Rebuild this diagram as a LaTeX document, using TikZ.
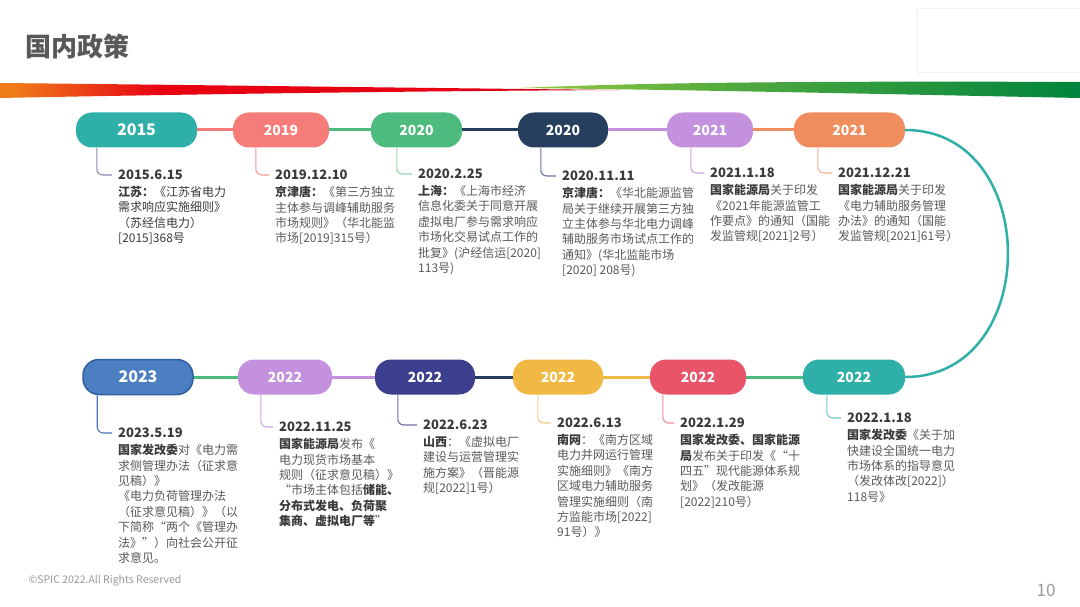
\documentclass[tikz,border=0pt]{standalone}
\usepackage{fontspec}
\setmainfont{Noto Sans CJK SC}
\newfontfamily\fwfont{Noto Sans CJK SC}[CharacterWidth=Full]
\usetikzlibrary{positioning}

\definecolor{cteal}{HTML}{2EAFA8}
\definecolor{csalmon}{HTML}{F67C79}
\definecolor{cgreen}{HTML}{4DBA7E}
\definecolor{cnavy}{HTML}{273F5F}
\definecolor{clav}{HTML}{C391DD}
\definecolor{corangep}{HTML}{F08D5E}
\definecolor{cblue}{HTML}{4C7FC1}
\definecolor{cblueline}{HTML}{2E5E9E}
\definecolor{cindigo}{HTML}{3C3F8E}
\definecolor{cgold}{HTML}{F0B944}
\definecolor{cred}{HTML}{E85468}
\definecolor{cleggray}{HTML}{8C88B8}
\definecolor{darktxt}{HTML}{3A3A3A}
\definecolor{bodygray}{HTML}{595959}
\definecolor{bandorange}{HTML}{F07D1A}
\definecolor{bandred}{HTML}{E60012}
\definecolor{banddark}{HTML}{C0001E}
\definecolor{bandlight}{HTML}{8DC63F}
\definecolor{bandgreen}{HTML}{00843D}

% shadings: the path sees the band from 25bp to 75bp
\pgfdeclarehorizontalshading{redband}{100bp}{color(0bp)=(bandorange); color(26bp)=(bandorange); color(38bp)=(bandred); color(62bp)=(bandred); color(75bp)=(banddark); color(100bp)=(banddark)}
\pgfdeclarehorizontalshading{greenband}{100bp}{color(0bp)=(bandlight); color(27bp)=(bandlight); color(45bp)=(bandlight!55!bandgreen); color(75bp)=(bandgreen); color(100bp)=(bandgreen)}

\tikzset{
  pill/.style={rounded corners=16pt, minimum height=35pt, inner sep=0pt, text=white, font=\bfseries\fontsize{14}{14}\selectfont},
  bigpill/.style={pill, font=\bfseries\fontsize{16}{16}\selectfont},
  link/.style={line width=3pt},
  leg/.style={line width=1.1pt, rounded corners=6pt},
  datetxt/.style={inner sep=0pt, anchor=west, text=darktxt, font=\bfseries\fontsize{13}{13}\selectfont},
  bodytxt/.style={inner sep=0pt, align=left, text=bodygray, font=\fontsize{12}{15.4}\selectfont},
}
\newcommand{\bd}[1]{{\bfseries\color{darktxt}#1}}
\newcommand{\fwq}[1]{{\fwfont #1}}

\begin{document}
\begin{tikzpicture}[x=1pt, y=-1pt]
  \useasboundingbox (0,0) rectangle (1080,607);
  % heading and banner
  \node[anchor=west, text=bodygray, font=\bfseries\fontsize{26}{26}\selectfont] (ttl) at (22,47) {国内政策};
  \draw[black!5] (917,8) rectangle (1086,72);
  \shade[shading=redband] (0,83) .. controls (200,85) and (420,88) .. (620,90) .. controls (420,91) and (200,94) .. (0,98) -- cycle;
  \shade[shading=greenband] (520,88) .. controls (650,82) and (850,81) .. (1080,82) -- (1080,98) .. controls (880,94) and (700,90) .. (520,88) -- cycle;

  % upper row
  \node[bigpill, fill=cteal, minimum width=121pt] (p1) at (136.5,130) {2015};
  \node[pill, fill=csalmon, minimum width=96pt] (p2) at (281,130) {2019};
  \node[pill, fill=cgreen, minimum width=91pt] (p3) at (416.5,130) {2020};
  \node[pill, fill=cnavy, minimum width=90pt] (p4) at (563,130) {2020};
  \node[pill, fill=clav, minimum width=86pt] (p5) at (710,130) {2021};
  \node[pill, fill=corangep, minimum width=111pt] (p6) at (849.5,130) {2021};
  \draw[link, csalmon] (p1) -- (p2);
  \draw[link, cgreen] (p2) -- (p3);
  \draw[link, cnavy] (p3) -- (p4);
  \draw[link, clav] (p4) -- (p5);
  \draw[link, corangep] (p5) -- (p6);

  % lower row
  \node[bigpill, fill=cblue, draw=cblueline, line width=1.5pt, minimum width=110pt] (q1) at (138,377) {2023};
  \node[pill, fill=clav, minimum width=94pt] (q2) at (285,377) {2022};
  \node[pill, fill=cindigo, minimum width=100pt] (q3) at (425,377) {2022};
  \node[pill, fill=cgold, minimum width=90pt] (q4) at (558,377) {2022};
  \node[pill, fill=cred, minimum width=96pt] (q5) at (698,377) {2022};
  \node[pill, fill=cteal, minimum width=102pt] (q6) at (854,377) {2022};
  \draw[link, cgreen] (q1) -- (q2);
  \draw[link, clav] (q2) -- (q3);
  \draw[link, cnavy] (q3) -- (q4);
  \draw[link, cgold] (q4) -- (q5);
  \draw[link, cgreen] (q5) -- (q6);
  \draw[line width=2.5pt, cteal] (p6.east) .. controls +(137,0) and +(137,0) .. (q6.east);

  % upper entries
  \node[datetxt] (d1) at (118,175) {2015.6.15};
  \node[bodytxt, text=darktxt, below=6pt of d1.south west, anchor=north west] (b1) {\bd{江苏：}《江苏省电力\\需求响应实施细则》\\（苏经信电力）\\{}[2015]368号};
  \draw[leg, cleggray] ([xshift=21pt]p1.south west) |- ([xshift=-6pt]d1.west);

  \node[datetxt] (d2) at (275,175) {2019.12.10};
  \node[bodytxt, below=6pt of d2.south west, anchor=north west] (b2) {\bd{京津唐：}《第三方独立\\主体参与调峰辅助服务\\市场规则》（华北能监\\市场[2019]315号）};
  \draw[leg, csalmon!80] ([xshift=23pt]p2.south west) |- ([xshift=-6pt]d2.west);

  \node[datetxt] (d3) at (418,174) {2020.2.25};
  \node[bodytxt, below=6pt of d3.south west, anchor=north west] (b3) {\bd{上海：}《上海市经济\\信息化委关于同意开展\\虚拟电厂参与需求响应\\市场化交易试点工作的\\批复》(沪经信运[2020]\\113号)};
  \draw[leg, cgreen!60] ([xshift=26pt]p3.south west) |- ([xshift=-6pt]d3.west);

  \node[datetxt] (d4) at (562,176) {2020.11.11};
  \node[bodytxt, below=6pt of d4.south west, anchor=north west] (b4) {\bd{京津唐：}《华北能源监管\\局关于继续开展第三方独\\立主体参与华北电力调峰\\辅助服务市场试点工作的\\通知》(华北监能市场\\{}[2020] 208号)};
  \draw[leg, cindigo!75] ([xshift=23pt]p4.south west) |- ([xshift=-6pt]d4.west);

  \node[datetxt] (d5) at (710,173) {2021.1.18};
  \node[bodytxt, below=6pt of d5.south west, anchor=north west] (b5) {\bd{国家能源局}关于印发\\《2021年能源监管工\\作要点》的通知（国能\\发监管规[2021]2号）};
  \draw[leg, clav!85] ([xshift=24pt]p5.south west) |- ([xshift=-6pt]d5.west);

  \node[datetxt] (d6) at (838,173) {2021.12.21};
  \node[bodytxt, below=6pt of d6.south west, anchor=north west] (b6) {\bd{国家能源局}关于印发\\《电力辅助服务管理\\办法》的通知（国能\\发监管规[2021]61号）};
  \draw[leg, corangep!70] ([xshift=24pt]p6.south west) |- ([xshift=-6pt]d6.west);

  % lower entries
  \node[datetxt] (d7) at (118,433) {2023.5.19};
  \node[bodytxt, below=6pt of d7.south west, anchor=north west] (b7) {\bd{国家发改委}对《电力需\\求侧管理办法（征求意\\见稿）》\\《电力负荷管理办法\\（征求意见稿）》（以\\下简称\fwq{“}两个《管理办\\法》\fwq{”}）向社会公开征\\求意见。};
  \draw[leg, cblue!80!cindigo] ([xshift=15pt]q1.south west) |- ([xshift=-6pt]d7.west);

  \node[datetxt] (d8) at (279,427) {2022.11.25};
  \node[bodytxt, below=6pt of d8.south west, anchor=north west] (b8) {\bd{国家能源局}发布《\\电力现货市场基本\\规则（征求意见稿）》\\\fwq{“}市场主体包括\bd{储能、}\\\bd{分布式发电、负荷聚}\\\bd{集商、虚拟电厂等}\fwq{”}};
  \draw[leg, clav!85] ([xshift=23pt]q2.south west) |- ([xshift=-6pt]d8.west);

  \node[datetxt] (d9) at (423,425) {2022.6.23};
  \node[bodytxt, below=6pt of d9.south west, anchor=north west] (b9) {\bd{山西}：《虚拟电厂\\建设与运营管理实\\施方案》（晋能源\\规[2022]1号）};
  \draw[leg, cindigo!75] ([xshift=23pt]q3.south west) |- ([xshift=-6pt]d9.west);

  \node[datetxt] (d10) at (557,423) {2022.6.13};
  \node[bodytxt, below=6pt of d10.south west, anchor=north west] (b10) {\bd{南网}：《南方区域\\电力并网运行管理\\实施细则》《南方\\区域电力辅助服务\\管理实施细则（南\\方监能市场[2022]\\91号）》};
  \draw[leg, cgold!70] ([xshift=25pt]q4.south west) |- ([xshift=-6pt]d10.west);

  \node[datetxt] (d11) at (680,423) {2022.1.29};
  \node[bodytxt, below=6pt of d11.south west, anchor=north west] (b11) {\bd{国家发改委、国家能源}\\\bd{局}发布关于印发《\fwq{“}十\\四五\fwq{”}现代能源体系规\\划》（发改能源\\{}[2022]210号）};
  \draw[leg, cred!65] ([xshift=13pt]q5.south west) |- ([xshift=-6pt]d11.west);

  \node[datetxt] (d12) at (847,418) {2022.1.18};
  \node[bodytxt, below=6pt of d12.south west, anchor=north west] (b12) {\bd{国家发改委}《关于加\\快建设全国统一电力\\市场体系的指导意见\\（发改体改[2022]）\\118号》};
  \draw[leg, cteal!65] ([xshift=24pt]q6.south west) |- ([xshift=-6pt]d12.west);

  % footer
  \node[anchor=west, text=black!40, font=\fontsize{10.5}{11}\selectfont] (foot) at (25,581) {©SPIC 2022.All Rights Reserved};
  \node[text=black!40, font=\fontsize{17}{17}\selectfont] (pgno) at (1046,590) {10};
\end{tikzpicture}
\end{document}
